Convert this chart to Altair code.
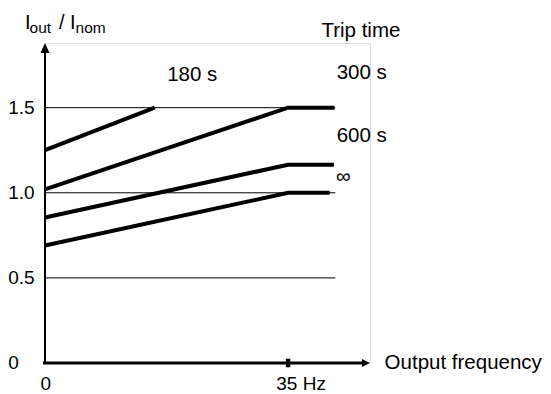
import altair as alt
import pandas as pd

# ---- data ----
curve_names = ["180 s", "300 s", "600 s", "∞"]
curve_x = [[0, 15.8], [0, 35, 41.7], [0, 35, 41.6], [0, 35, 41.0]]
curve_y = [[1.25, 1.5], [1.02, 1.5, 1.5], [0.855, 1.165, 1.165], [0.69, 1.0, 1.0]]

y_tick_values = [0, 0.5, 1.0, 1.5]
y_tick_labels = ["0", "0.5", "1.0", "1.5"]
grid_values = [0.5, 1.0, 1.5]
grid_end = 41.8
x_tick_value = 35
x_max, y_max = 46.8, 1.88

# curve labels (data coordinates)
lab_text = ["180 s", "300 s", "600 s", "∞", "Trip time", "Output frequency"]
lab_x = [17.6, 42.0, 42.0, 41.9, 39.8, 48.9]
lab_y = [1.692, 1.702, 1.334, 1.09, 1.953, 0.0]

FONT = "Liberation Sans"

X = alt.Scale(domain=[0, x_max], nice=False, zero=False)
Y = alt.Scale(domain=[0, y_max], nice=False, zero=False)

rows = []
for name, xs, ys in zip(curve_names, curve_x, curve_y):
    for i, (xv, yv) in enumerate(zip(xs, ys)):
        rows.append({"series": name, "x": xv, "y": yv, "i": i})
curves_df = pd.DataFrame(rows)

curves = alt.Chart(curves_df).mark_line(
    color="black", strokeWidth=4, strokeCap="butt", strokeJoin="miter"
).encode(
    x=alt.X("x:Q", scale=X, axis=None),
    y=alt.Y("y:Q", scale=Y, axis=None),
    detail="series:N",
    order="i:Q",
)

grid = alt.Chart(pd.DataFrame({"y": grid_values, "x": [0] * 3, "x2": [grid_end] * 3})).mark_rule(
    color="black", strokeWidth=1
).encode(x=alt.X("x:Q", scale=X, axis=None), x2="x2:Q", y=alt.Y("y:Q", scale=Y, axis=None))

yaxis = alt.Chart(pd.DataFrame({"x": [0], "y": [0], "y2": [y_max - 0.03]})).mark_rule(
    color="black", strokeWidth=2
).encode(x=alt.X("x:Q", scale=X, axis=None), y=alt.Y("y:Q", scale=Y, axis=None), y2="y2:Q")

xaxis = alt.Chart(pd.DataFrame({"x": [-0.3], "x2": [x_max - 0.5], "y": [0]})).mark_rule(
    color="black", strokeWidth=3
).encode(x=alt.X("x:Q", scale=X, axis=None), x2="x2:Q", y=alt.Y("y:Q", scale=Y, axis=None))

yarrow = alt.Chart(pd.DataFrame({"x": [0], "y": [y_max]})).mark_point(
    shape="M0,0L0.9,2L-0.9,2Z", filled=True, size=100, color="black", opacity=1, strokeWidth=0
).encode(x=alt.X("x:Q", scale=X, axis=None), y=alt.Y("y:Q", scale=Y, axis=None))

xarrow = alt.Chart(pd.DataFrame({"x": [x_max], "y": [0]})).mark_point(
    shape="M0,0L-1.6,-0.8L-1.6,0.8Z", filled=True, size=100, color="black", opacity=1, strokeWidth=0
).encode(x=alt.X("x:Q", scale=X, axis=None), y=alt.Y("y:Q", scale=Y, axis=None))

xtick = alt.Chart(pd.DataFrame({"x": [x_tick_value], "y": [0]})).mark_point(
    shape="M-0.45,-0.85L0.45,-0.85L0.45,0.85L-0.45,0.85Z", filled=True, size=100,
    color="black", opacity=1, strokeWidth=0
).encode(x=alt.X("x:Q", scale=X, axis=None), y=alt.Y("y:Q", scale=Y, axis=None))

ylabels = alt.Chart(pd.DataFrame({"y": y_tick_values, "t": y_tick_labels, "x": [-5.3] * 4})).mark_text(
    align="left", baseline="middle", font=FONT, fontSize=19, color="black"
).encode(x=alt.X("x:Q", scale=X, axis=None), y=alt.Y("y:Q", scale=Y, axis=None), text="t:N")

xlabels = alt.Chart(pd.DataFrame({"x": [0.1, 33.3], "y": [-0.123, -0.123], "t": ["0", "35 Hz"],
                                  "a": ["c", "l"]}))
xlab0 = xlabels.transform_filter("datum.a == 'c'").mark_text(
    align="center", baseline="middle", font=FONT, fontSize=19, color="black"
).encode(x=alt.X("x:Q", scale=X, axis=None), y=alt.Y("y:Q", scale=Y, axis=None), text="t:N")
xlab35 = xlabels.transform_filter("datum.a == 'l'").mark_text(
    align="left", baseline="middle", font=FONT, fontSize=19, color="black"
).encode(x=alt.X("x:Q", scale=X, axis=None), y=alt.Y("y:Q", scale=Y, axis=None), text="t:N")

labels = alt.Chart(pd.DataFrame({"x": lab_x, "y": lab_y, "t": lab_text})).mark_text(
    align="left", baseline="middle", font=FONT, fontSize=20.5, color="black"
).encode(x=alt.X("x:Q", scale=X, axis=None), y=alt.Y("y:Q", scale=Y, axis=None), text="t:N")

# y-axis title with subscripts
title_big = alt.Chart(pd.DataFrame({"x": [-2.88, 2.0, 3.6], "y": [1.962] * 3, "t": ["I", "/", "I"]})).mark_text(
    align="left", baseline="alphabetic", font=FONT, fontSize=20, color="black"
).encode(x=alt.X("x:Q", scale=X, axis=None), y=alt.Y("y:Q", scale=Y, axis=None), text="t:N")
title_sub = alt.Chart(pd.DataFrame({"x": [-2.23, 4.4], "y": [1.939] * 2, "t": ["out", "nom"]})).mark_text(
    align="left", baseline="alphabetic", font=FONT, fontSize=15.5, color="black"
).encode(x=alt.X("x:Q", scale=X, axis=None), y=alt.Y("y:Q", scale=Y, axis=None), text="t:N")

chart = alt.layer(
    grid, yaxis, xaxis, curves, yarrow, xarrow, xtick,
    ylabels, xlab0, xlab35, labels, title_big, title_sub
).properties(
    width=325, height=320,
    autosize=alt.AutoSizeParams(type="none"),
    padding={"left": 37, "top": 35, "right": 173, "bottom": 30},
).configure_view(stroke=None).configure(background="white")

chart.save("out.html", embed_options={"renderer": "svg", "actions": False})
